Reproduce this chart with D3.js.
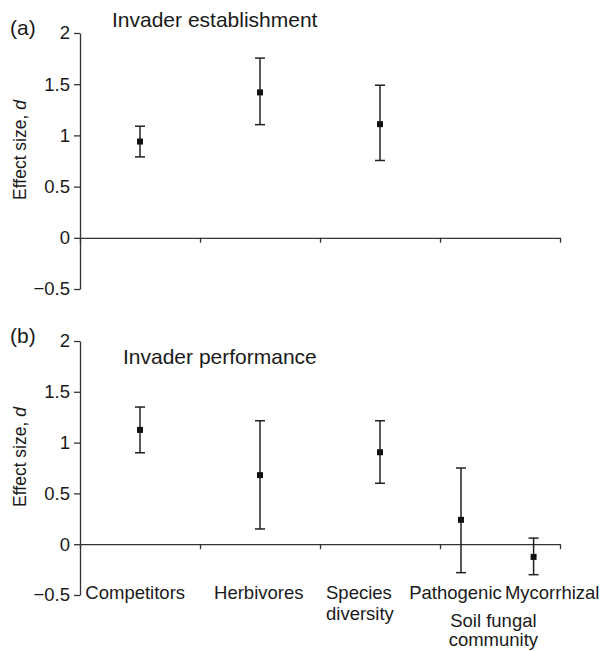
<!DOCTYPE html>
<html>
<head>
<meta charset="utf-8">
<script src="https://cdn.jsdelivr.net/npm/d3@7"></script>
<style>
  body { margin: 0; background: #fff; }
  text { font-family: "Liberation Sans", Arial, sans-serif; fill: #1a1a1a; }
</style>
</head>
<body>
<div id="chart-area"></div>
<script>
// categories (x position in category units, 0..4)
var catsA = ["Competitors", "Herbivores", "Species diversity"];
var posA = [0.5, 1.5, 2.5];
var meanA = [0.94, 1.42, 1.11];
var lowA = [0.79, 1.105, 0.755];
var highA = [1.09, 1.755, 1.49];

var catsB = ["Competitors", "Herbivores", "Species diversity", "Pathogenic", "Mycorrhizal"];
var posB = [0.5, 1.5, 2.5, 3.175, 3.78];
var meanB = [1.125, 0.68, 0.905, 0.24, -0.125];
var lowB = [0.9, 0.15, 0.6, -0.28, -0.3];
var highB = [1.35, 1.215, 1.215, 0.75, 0.06];

var yTicks = [-0.5, 0, 0.5, 1, 1.5, 2];
var xTicks = [0, 1, 2, 3, 4];

var width = 605, height = 651;

var svg = d3.select("#chart-area")
	.append("svg")
		.attr("width", width)
		.attr("height", height);

	// shared x scale
var x = d3.scaleLinear()
	.domain([0, 4])
	.range([80, 560]);

function drawPanel(tag, title, titleY, top, bottom, pos, mean, low, high, titleX) {
	var y = d3.scaleLinear()
		.domain([-0.5, 2])
		.range([bottom, top]);

	var g = svg.append("g");

	// Y axis
	var yAxis = g.append("g")
		.attr("transform", "translate(80, 0)")
		.call(d3.axisLeft(y).tickValues(yTicks).tickSize(6).tickSizeOuter(0)
			.tickFormat(function(d){ return d === 0 ? "0" : d3.format("")(d).replace("-", "\u2212"); }));
	yAxis.selectAll("text")
		.attr("font-size", "18.5px")
		.attr("x", -10)
		.style("font-family", "Liberation Sans, Arial, sans-serif")
		.attr("fill", "#1a1a1a");

	// X axis at zero
	g.append("g")
		.attr("transform", "translate(0, " + y(0) + ")")
		.call(d3.axisBottom(x).tickValues(xTicks).tickSize(5).tickSizeOuter(0).tickFormat(""));

	g.selectAll(".domain, .tick line")
		.attr("stroke", "#333")
		.attr("stroke-width", 1.3);

	// error bars
	var bars = g.selectAll(".bar")
		.data(pos)
		.enter()
		.append("g");

	bars.append("line")
		.attr("x1", function(d){ return x(d); })
		.attr("x2", function(d){ return x(d); })
		.attr("y1", function(d, i){ return y(low[i]); })
		.attr("y2", function(d, i){ return y(high[i]); })
		.attr("stroke", "#222")
		.attr("stroke-width", 1.5);

	[low, high].forEach(function(arr){
		bars.append("line")
			.attr("x1", function(d){ return x(d) - 5; })
			.attr("x2", function(d){ return x(d) + 5; })
			.attr("y1", function(d, i){ return y(arr[i]); })
			.attr("y2", function(d, i){ return y(arr[i]); })
			.attr("stroke", "#222")
			.attr("stroke-width", 1.5);
	});

	bars.append("rect")
		.attr("x", function(d){ return x(d) - 3; })
		.attr("y", function(d, i){ return y(mean[i]) - 3; })
		.attr("width", 6)
		.attr("height", 6)
		.attr("fill", "#111");

	// panel tag
	g.append("text")
		.attr("x", 10)
		.attr("y", top + 2)
		.attr("font-size", "21px")
		.text(tag);

	// title
	g.append("text")
		.attr("x", titleX)
		.attr("y", titleY)
		.attr("font-size", "21px")
		.text(title);

	// Y label
	g.append("text")
		.attr("transform", "translate(26, " + ((top + bottom) / 2 - 11) + ") rotate(-90)")
		.attr("text-anchor", "middle")
		.attr("font-size", "17.5px")
		.html("Effect size, <tspan font-style='italic'>d</tspan>");

	return y;
}

drawPanel("(a)", "Invader establishment", 27, 33, 289, posA, meanA, lowA, highA, 112);
drawPanel("(b)", "Invader performance", 364, 341, 595, posB, meanB, lowB, highB, 123);

	// category labels under panel b
var labelLines = [["Competitors"], ["Herbivores"], ["Species", "diversity"], ["Pathogenic"], ["Mycorrhizal"], ["Soil fungal", "community"]];
var labelPos = [0.46, 1.49, 2.05, 3.129, 3.935, 3.445];
var labelRow = [0, 0, 0, 0, 0, 1];
var labelAnchor = ["middle", "middle", "start", "middle", "middle", "middle"];

labelLines.forEach(function(lines, i){
	var t = svg.append("text")
		.attr("y", 599 + labelRow[i] * 28)
		.attr("text-anchor", labelAnchor[i])
		.attr("font-size", "18.5px");
	lines.forEach(function(l, j){
		t.append("tspan")
			.attr("x", x(labelPos[i]))
			.attr("dy", j === 0 ? 0 : (labelRow[i] ? 19 : 21))
			.text(l);
	});
});
</script>
</body>
</html>
